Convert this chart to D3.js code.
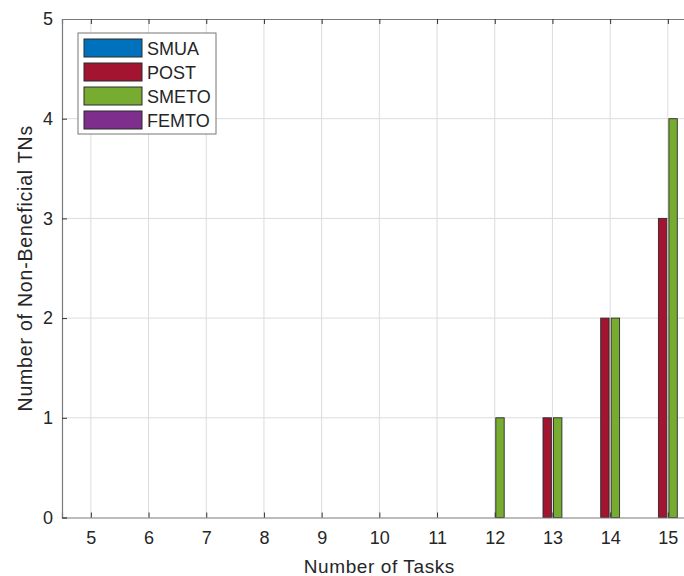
<!DOCTYPE html>
<html>
<head>
<meta charset="utf-8">
<script src="https://cdn.jsdelivr.net/npm/d3@7"></script>
<style>
  body { margin: 0; background: #fff; }
  text { font-family: "Liberation Sans", Arial, Helvetica, sans-serif; fill: #262626; }
</style>
</head>
<body>
<div id="plot"></div>
<script>
const tasks = [5, 6, 7, 8, 9, 10, 11, 12, 13, 14, 15];
const seriesNames = ["SMUA", "POST", "SMETO", "FEMTO"];
const smua = [0, 0, 0, 0, 0, 0, 0, 0, 0, 0, 0];
const post = [0, 0, 0, 0, 0, 0, 0, 0, 1, 2, 3];
const smeto = [0, 0, 0, 0, 0, 0, 0, 1, 1, 2, 4];
const femto = [0, 0, 0, 0, 0, 0, 0, 0, 0, 0, 0];
const yTicks = [0, 1, 2, 3, 4, 5];
const colors = ["#0072BD", "#A2142F", "#77AC30", "#7E2F8E"];

const series = [smua, post, smeto, femto];

const width = 684, height = 576;
const plotLeft = 62, plotTop = 19, plotBottom = 517.5;
const unit = 57.7;

const svg = d3.select("#plot").append("svg")
  .attr("width", width)
  .attr("height", height);

const x = d3.scaleLinear().domain([4.5, 15.5]).range([plotLeft, plotLeft + 11 * unit]);
const y = d3.scaleLinear().domain([0, 5]).range([plotBottom, plotTop]);

// grid
svg.append("g").selectAll("line")
  .data(tasks)
  .join("line")
  .attr("x1", d => x(d)).attr("x2", d => x(d))
  .attr("y1", plotTop).attr("y2", plotBottom)
  .attr("stroke", "#dcdcdc").attr("stroke-width", 1);

svg.append("g").selectAll("line")
  .data(yTicks.slice(1, -1))
  .join("line")
  .attr("x1", plotLeft).attr("x2", x(15.5))
  .attr("y1", d => y(d)).attr("y2", d => y(d))
  .attr("stroke", "#dcdcdc").attr("stroke-width", 1);

// bars (MATLAB style grouped)
const nSer = series.length;
const groupW = Math.min(0.8, nSer / (nSer + 1.5));
const slot = groupW / nSer;
const barW = slot * 0.8;

const barData = [];
series.forEach((vals, si) => {
  vals.forEach((v, i) => {
    barData.push({ s: si, t: tasks[i], v: v });
  });
});

svg.append("g").selectAll("rect")
  .data(barData.filter(d => d.v > 0))
  .join("rect")
  .attr("x", d => x(d.t - groupW / 2 + slot * d.s + (slot - barW) / 2))
  .attr("width", d => x(barW) - x(0))
  .attr("y", d => y(d.v))
  .attr("height", d => y(0) - y(d.v))
  .attr("fill", d => colors[d.s])
  .attr("stroke", "#2a2a2a")
  .attr("stroke-width", 0.9);

// axes
const xAxis = d3.axisBottom(x).tickValues(tasks).tickSize(-5).tickPadding(14).tickFormat(d3.format("d"));
const yAxis = d3.axisLeft(y).tickValues(yTicks).tickSize(-5).tickPadding(9).tickFormat(d3.format("d"));

const gx = svg.append("g").attr("transform", `translate(0,${plotBottom})`).call(xAxis);
const gy = svg.append("g").attr("transform", `translate(${plotLeft},0)`).call(yAxis);

// top box line with ticks
const gt = svg.append("g").attr("transform", `translate(0,${plotTop})`)
  .call(d3.axisTop(x).tickValues(tasks).tickSize(-5).tickFormat(""));

[gx, gy, gt].forEach(g => {
  g.select(".domain").attr("stroke", "#7a7a7a").attr("stroke-width", 1.2);
  g.selectAll(".tick line").attr("stroke", "#333");
  g.selectAll(".tick text")
    .style("font-size", "18px")
    .attr("fill", "#262626")
    .style("font-family", "'Liberation Sans', Arial, sans-serif");
});

// axis titles
svg.append("text")
  .attr("x", (x(4.5) + x(15.5)) / 2)
  .attr("y", 573)
  .attr("text-anchor", "middle")
  .style("font-size", "19px")
  .style("letter-spacing", "0.6px")
  .text("Number of Tasks");

svg.append("text")
  .attr("transform", `translate(32,${(plotTop + plotBottom) / 2}) rotate(-90)`)
  .attr("text-anchor", "middle")
  .style("font-size", "19.5px")
  .style("letter-spacing", "0.8px")
  .text("Number of Non-Beneficial TNs");

// legend
const leg = svg.append("g").attr("transform", "translate(78,33)");
leg.append("rect")
  .attr("width", 138).attr("height", 101)
  .attr("fill", "#fff").attr("stroke", "#777").attr("stroke-width", 1);

const rows = leg.selectAll("g.row")
  .data(seriesNames)
  .join("g")
  .attr("class", "row")
  .attr("transform", (d, i) => `translate(6,${6 + i * 24})`);

rows.append("rect")
  .attr("width", 58).attr("height", 18)
  .attr("fill", (d, i) => colors[i])
  .attr("stroke", "#2a2a2a").attr("stroke-width", 1);

rows.append("text")
  .attr("x", 63).attr("y", 15.5)
  .style("font-size", "18px")
  .text(d => d);
</script>
</body>
</html>
